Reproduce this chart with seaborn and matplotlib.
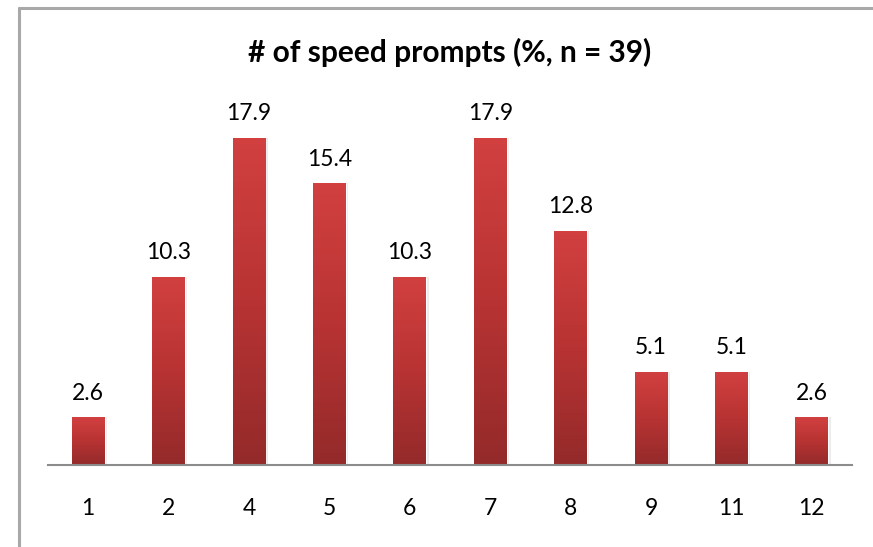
import numpy as np
import pandas as pd
import matplotlib
matplotlib.use("Agg")
import matplotlib.pyplot as plt
from matplotlib.colors import LinearSegmentedColormap
from matplotlib.lines import Line2D
import seaborn as sns

categories = ["1", "2", "4", "5", "6", "7", "8", "9", "11", "12"]
shares = [2.6, 10.3, 17.9, 15.4, 10.3, 17.9, 12.8, 5.1, 5.1, 2.6]
title_text = "# of speed prompts (%, n = 39)"

df = pd.DataFrame({"prompts": categories, "share": shares})

sns.set_theme(style="white")
plt.rcParams["font.family"] = ["Lato", "DejaVu Sans"]

W, H = 873, 547
fig = plt.figure(figsize=(W / 100, H / 100), dpi=100)
ax = fig.add_axes([48 / W, (H - 465) / H, 804 / W, (465 - 81) / H])

sns.barplot(data=df, x="prompts", y="share", order=categories,
            color="#c23636", width=0.41, ax=ax, zorder=2)

ax.set_xlim(-0.5, len(categories) - 0.5)
ax.set_ylim(0, 21)

# vertical red gradient inside each bar
grad = LinearSegmentedColormap.from_list("bar_grad", ["#942a2a", "#b83333", "#d24040"])
gimg = np.linspace(0, 1, 256).reshape(-1, 1)
for patch in ax.patches:
    x0, y0 = patch.get_x(), patch.get_y()
    w, h = patch.get_width(), patch.get_height()
    # soft shadow to the right
    ax.add_patch(plt.Rectangle((x0 + 0.03, y0), w, h, color="#000000",
                               alpha=0.08, lw=0, zorder=1))
    im = ax.imshow(gimg, cmap=grad, aspect="auto", origin="lower",
                   extent=[x0, x0 + w, y0, y0 + h], zorder=3)
    im.set_clip_path(patch)
    ax.annotate(f"{h:.1f}", (x0 + w / 2, h), xytext=(0, 10),
                textcoords="offset points", ha="center", va="bottom",
                fontsize=16.5, color="#000000")

ax.set_xlabel("")
ax.set_ylabel("")
ax.set_yticks([])
ax.tick_params(axis="x", length=0, pad=24, labelsize=16.5, labelcolor="#000000")
for side in ["top", "right", "left"]:
    ax.spines[side].set_visible(False)
ax.spines["bottom"].set_color("#8c8c8c")
ax.spines["bottom"].set_linewidth(1.5)
ax.spines["bottom"].set_zorder(4)

fig.text(450 / W, 1 - 52 / H, title_text, ha="center", va="center",
         fontsize=21.5, fontweight="bold", color="#000000")

# outer chart frame (top and left edges visible)
fig.add_artist(Line2D([19 / W, 1.0], [1 - 8 / H, 1 - 8 / H], transform=fig.transFigure,
                      color="#a8a8a8", lw=2.2))
fig.add_artist(Line2D([19 / W, 19 / W], [0.0, 1 - 8 / H], transform=fig.transFigure,
                      color="#a8a8a8", lw=2.2))

fig.savefig("out.png", dpi=100, facecolor="white")
